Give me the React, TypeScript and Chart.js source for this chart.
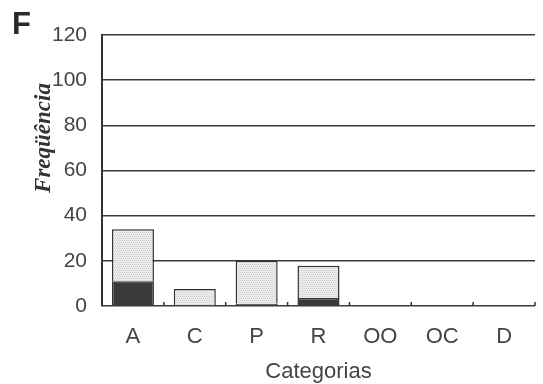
import React, { useEffect, useRef } from "react";
import { Chart, registerables } from "chart.js";

Chart.register(...registerables);

const categories = ["A", "C", "P", "R", "OO", "OC", "D"];
const darkValues = [11, 0, 1, 3.5, 0, 0, 0];
const lightValues = [23, 7.5, 19, 14.3, 0, 0, 0];
const yTicks = [0, 20, 40, 60, 80, 100, 120];

function makePattern(): CanvasPattern | string {
  const c = document.createElement("canvas");
  c.width = 4;
  c.height = 4;
  const g = c.getContext("2d");
  if (!g) return "#e4e4e4";
  g.fillStyle = "#ececec";
  g.fillRect(0, 0, 4, 4);
  g.fillStyle = "#cfcfcf";
  g.fillRect(0, 0, 1, 1);
  g.fillRect(2, 0, 1, 1);
  g.fillRect(1, 2, 1, 1);
  g.fillRect(3, 2, 1, 1);
  const p = g.createPattern(c, "repeat");
  return p || "#e4e4e4";
}

const decorPlugin = {
  id: "decor",
  afterDraw(chart: any) {
    const ctx = chart.ctx;
    const x = chart.scales.x;
    const area = chart.chartArea;
    ctx.save();
    ctx.strokeStyle = "#333";
    ctx.lineWidth = 1.5;
    const step = x.getPixelForValue(1) - x.getPixelForValue(0);
    for (let i = 0; i < categories.length; i++) {
      const px = x.getPixelForValue(i) + step / 2;
      ctx.beginPath();
      ctx.moveTo(px, area.bottom);
      ctx.lineTo(px, area.bottom - 4);
      ctx.stroke();
    }
    ctx.fillStyle = "#2a2a2a";
    ctx.font = "bold 31px 'Liberation Sans', Arial, sans-serif";
    ctx.textAlign = "left";
    ctx.textBaseline = "alphabetic";
    ctx.fillText("F", 12, 34);
    ctx.translate(44, 138);
    ctx.rotate(-Math.PI / 2);
    ctx.font = "italic bold 23px 'Liberation Serif', 'Times New Roman', serif";
    ctx.textAlign = "center";
    ctx.textBaseline = "middle";
    ctx.fillStyle = "#333";
    ctx.fillText("Freqüência", 0, 0);
    ctx.restore();
  },
};

export default function App() {
  const ref = useRef<HTMLCanvasElement>(null);
  useEffect(() => {
    if (!ref.current) return;
    const pattern = makePattern();
    const toData = (arr: number[]) => arr.map((v) => (v === 0 ? null : v));
    const chart = new Chart(ref.current, {
      type: "bar",
      data: {
        labels: categories,
        datasets: [
          {
            label: "dark",
            data: toData(darkValues) as any,
            backgroundColor: "#3a3a3a",
            borderColor: "#333",
            borderWidth: 1.5,
            categoryPercentage: 1,
            barPercentage: 0.68,
          },
          {
            label: "light",
            data: toData(lightValues) as any,
            backgroundColor: pattern as any,
            borderColor: "#333",
            borderWidth: 1.5,
            categoryPercentage: 1,
            barPercentage: 0.68,
          },
        ],
      },
      options: {
        animation: false,
        responsive: false,
        maintainAspectRatio: false,
        layout: { padding: { left: 0, right: 8, top: 35, bottom: 0 } },
        plugins: { legend: { display: false }, tooltip: { enabled: false } },
        scales: {
          x: {
            stacked: true,
            grid: { display: false },
            border: { display: false },
            ticks: {
              color: "#444",
              padding: 10,
              font: { family: "'Liberation Sans', Arial, sans-serif", size: 22 },
            },
            title: {
              display: true,
              text: "Categorias",
              color: "#444",
              padding: { top: 0, bottom: -1 },
              font: { family: "'Liberation Sans', Arial, sans-serif", size: 22 },
            },
            afterFit(scale: any) {
              scale.height = 78;
            },
          },
          y: {
            stacked: true,
            min: 0,
            max: 120,
            afterBuildTicks(scale: any) {
              scale.ticks = yTicks.map((v) => ({ value: v }));
            },
            grid: { color: "#3a3a3a", lineWidth: 1.5, drawTicks: false },
            border: { display: true, color: "#333", width: 2 },
            ticks: {
              color: "#444",
              padding: 15,
              font: { family: "'Liberation Sans', Arial, sans-serif", size: 21 },
            },
            afterFit(scale: any) {
              scale.width = 102;
            },
          },
        },
      },
      plugins: [decorPlugin],
    });
    return () => chart.destroy();
  }, []);
  return (
    <div style={{ position: "fixed", left: 0, top: 0, width: 543, height: 384, background: "#fff" }}>
      <canvas ref={ref} width={543} height={384} style={{ width: 543, height: 384 }} />
    </div>
  );
}
